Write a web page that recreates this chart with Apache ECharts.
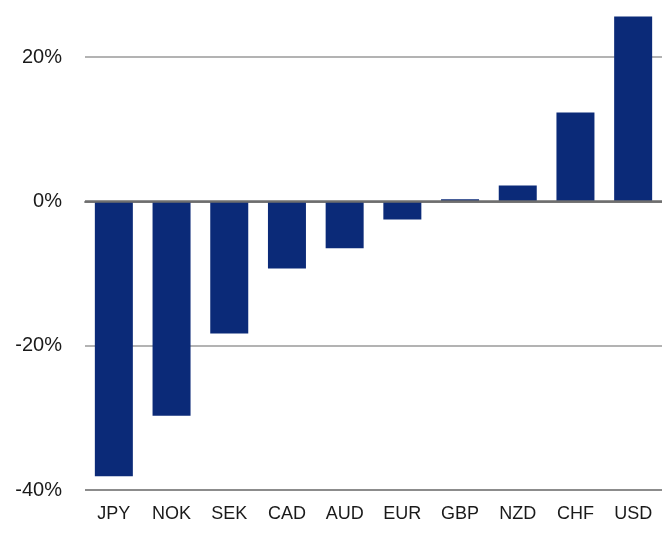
<!DOCTYPE html>
<html>
<head>
<meta charset="utf-8">
<script src="https://cdn.jsdelivr.net/npm/echarts@6/dist/echarts.min.js"></script>
<style>
  html, body { margin: 0; padding: 0; background: #fff; }
  #chart { width: 662px; height: 542px; }
</style>
</head>
<body>
<div id="chart"></div>
<script>
// Currency performance, % change
const currencies = ['JPY', 'NOK', 'SEK', 'CAD', 'AUD', 'EUR', 'GBP', 'NZD', 'CHF', 'USD'];
const changePct = [-38.1, -29.7, -18.3, -9.3, -6.5, -2.5, 0.3, 2.2, 12.3, 25.6];
const yMin = -40;
const yMax = 20;
const yStep = 20;

const FONT = '"Liberation Sans Narrow", "Arial Narrow", "Liberation Sans", Arial, sans-serif';

const chart = echarts.init(document.getElementById('chart'), null, { renderer: 'canvas' });
chart.setOption({
  animation: false,
  backgroundColor: '#ffffff',
  grid: { left: 85, right: 0, top: 57, bottom: 52, containLabel: false },
  xAxis: {
    type: 'category',
    data: currencies,
    axisLine: { show: true, lineStyle: { color: '#8c8c8c', width: 2 } },
    axisTick: { show: false },
    axisLabel: {
      interval: 0, color: '#1a1a1a', fontFamily: FONT, fontSize: 18, margin: 15
    }
  },
  yAxis: {
    type: 'value',
    min: yMin,
    max: yMax,
    interval: yStep,
    axisLine: { show: false },
    axisTick: { show: false },
    axisLabel: {
      color: '#1a1a1a', fontFamily: FONT, fontSize: 20, margin: 23,
      formatter: v => v + '%'
    },
    splitLine: { show: true, lineStyle: { color: ['#8c8c8c', '#b3b3b3', '#6e6e6e', '#b3b3b3'], width: 2 } }
  },
  series: [{
    type: 'bar',
    data: changePct,
    barWidth: 38,
    clip: false,
    itemStyle: { color: '#0b2a78' },
    markLine: {
      silent: true,
      symbol: 'none',
      label: { show: false },
      lineStyle: { color: '#6e6e6e', width: 2.5, type: 'solid' },
      data: [{ yAxis: 0 }]
    }
  }]
});
</script>
</body>
</html>
